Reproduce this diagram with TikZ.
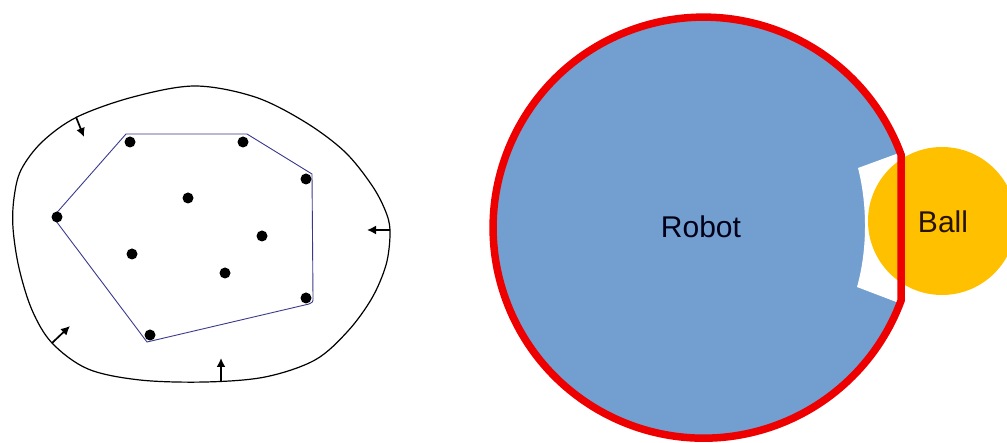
\documentclass[tikz,border=0pt]{standalone}
\usepackage{fontspec}
\setmainfont{Liberation Sans}
\usetikzlibrary{arrows.meta}
\definecolor{robotblue}{HTML}{729FCF}
\definecolor{ballgold}{HTML}{FFC000}
\definecolor{robotred}{HTML}{EE0000}
\definecolor{hullblue}{HTML}{3A3A8C}
\tikzset{
  pt/.style={circle,fill=black,inner sep=0pt,minimum size=11pt},
  pusharrow/.style={line width=1.7pt,-{Latex[length=9pt,width=9pt]}},
  bigtext/.style={font=\fontsize{30}{36}\selectfont,inner sep=0pt}
}
\begin{document}
\begin{tikzpicture}[x=1pt,y=-1pt]
\useasboundingbox (0,0) rectangle (1007,443);
% ---------- left: shrinking contour around point set ----------
\draw[line width=1.2pt] plot[smooth cycle,tension=0.55] coordinates {
  (133,97) (195,86) (255,97) (305,122) (345,152) (373,187) (387,215) (390,235)
  (386,265) (372,298) (348,331) (315,360) (265,377) (205,382) (140,380)
  (88,369) (52,343) (32,310) (19,268) (13,228) (14,198) (21,170) (42,142)
  (77,117)};
% convex hull
\draw[hullblue,line width=0.9pt] (126,134) -- (247,134) -- (312,174) -- (313,298)
  .. controls (313,302) .. (309,304) -- (147,342) -- (53,217) -- cycle;
% points
\node[pt] (p1) at (130,142) {};
\node[pt] (p2) at (243,142) {};
\node[pt] (p3) at (306,179) {};
\node[pt] (p4) at (188,198) {};
\node[pt] (p5) at (57,217) {};
\node[pt] (p6) at (262,236) {};
\node[pt] (p7) at (132,254) {};
\node[pt] (p8) at (225,273) {};
\node[pt] (p9) at (306,298) {};
\node[pt] (p10) at (150,335) {};
% arrows on contour
\coordinate (a1s) at (76,117); \coordinate (a1e) at (84,137);
\coordinate (a2s) at (390,230); \coordinate (a2e) at (367,230);
\coordinate (a3s) at (52,343); \coordinate (a3e) at (70,326);
\coordinate (a4s) at (221,382); \coordinate (a4e) at (221,358);
\draw[pusharrow] (a1s) -- (a1e);
\draw[pusharrow] (a2s) -- (a2e);
\draw[pusharrow] (a3s) -- (a3e);
\draw[pusharrow] (a4s) -- (a4e);
% ---------- right: robot and ball ----------
\fill[robotblue] (901.1,154.8) arc[start angle=339.75,end angle=20.25,radius=210.5] -- cycle;
\fill[white] (858,168) -- (899,153) -- (899,303) -- (857,287)
  .. controls (867.5,250) and (867.5,205) .. cycle;
\fill[ballgold] (942,221) circle[radius=74];
\draw[robotred,line width=7.5pt] (901.1,154.8) arc[start angle=339.75,end angle=20.25,radius=210.5] -- cycle;
\node[bigtext,text=black!90!blue] (robot) at (701,227) {Robot};
\node[bigtext,text=black!85!orange] (ball) at (943,222) {Ball};
\end{tikzpicture}
\end{document}
